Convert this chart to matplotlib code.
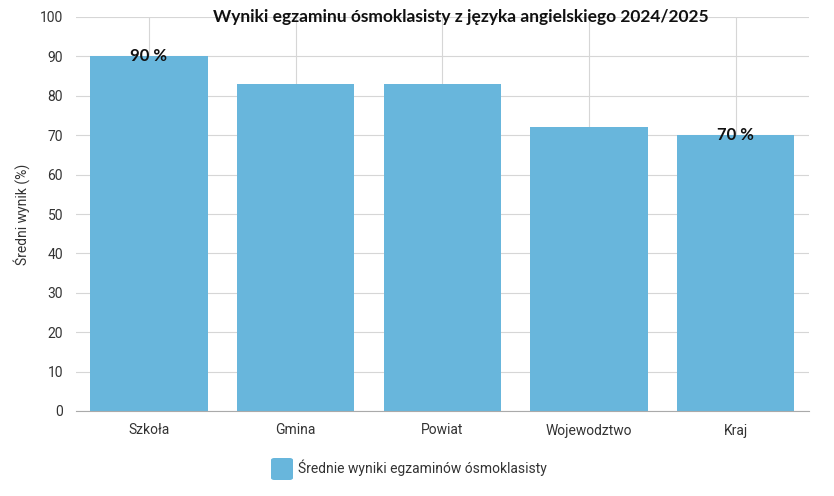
import matplotlib.pyplot as plt
from matplotlib.patches import FancyBboxPatch

categories = ['Szkoła', 'Gmina', 'Powiat', 'Wojewodztwo', 'Kraj']
values = [90, 83, 83, 72, 70]
labeled = [True, False, False, False, True]
yticks = [0, 10, 20, 30, 40, 50, 60, 70, 80, 90, 100]

title = 'Wyniki egzaminu ósmoklasisty z języka angielskiego 2024/2025'
ylabel = 'Średni wynik (%)'
legend_label = 'Średnie wyniki egzaminów ósmoklasisty'

bar_color = '#68b6dc'
text_color = '#333333'

W, H = 834, 496
fig = plt.figure(figsize=(W / 100, H / 100), dpi=100)
ax = fig.add_axes([75.5 / W, 1 - 411 / H, 733.5 / W, (411 - 17) / H])

x = list(range(len(categories)))
ax.bar(x, values, width=0.8, color=bar_color, zorder=2)

for xi, v, show in zip(x, values, labeled):
    if show:
        ax.text(xi, v, f'{v} %', ha='center', va='center', fontsize=12,
                fontweight='bold', family='Lato', color='#111111', zorder=3)

ax.set_xlim(-0.5, len(categories) - 0.5)
ax.set_ylim(0, 100)
ax.set_yticks(yticks)
ax.set_xticks(x)
ax.set_xticklabels(categories)
ax.grid(True, color='#d6d6d6', linewidth=0.8, zorder=0)
ax.set_axisbelow(True)
for s in ['top', 'right', 'left']:
    ax.spines[s].set_visible(False)
ax.spines['bottom'].set_color('#aaaaaa')
ax.tick_params(length=0, labelsize=10, labelcolor=text_color, pad=9)
ax.tick_params(axis='x', pad=9)
for lbl in ax.get_xticklabels() + ax.get_yticklabels():
    lbl.set_family('Roboto')

fig.text(22 / W, 1 - 214 / H, ylabel, rotation=90, ha='center', va='center',
         fontsize=10, family='Roboto', color=text_color)
fig.text(461 / W, 1 - 17 / H, title, ha='center', va='center', fontsize=12.5,
         fontweight='bold', family='Lato', color='#111111')

patch = FancyBboxPatch((271 / W, 1 - 480 / H), 22 / W, 22 / H,
                       boxstyle='round,pad=0,rounding_size=0.004',
                       transform=fig.transFigure, facecolor=bar_color,
                       edgecolor='none')
fig.patches.append(patch)
fig.text(298 / W, 1 - 468 / H, legend_label, ha='left', va='center',
         fontsize=10, family='Roboto', color=text_color)

fig.savefig('out.png', dpi=100)
